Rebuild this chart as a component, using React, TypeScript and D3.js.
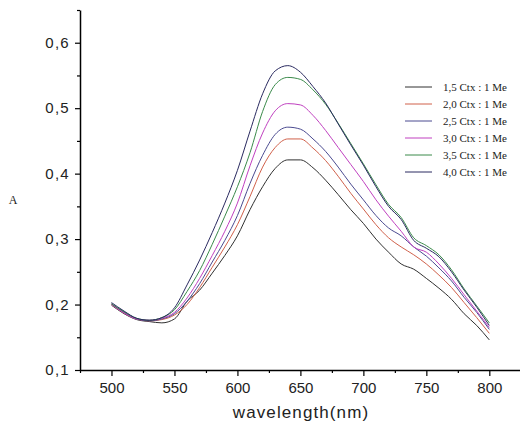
import React, { useEffect, useRef } from "react";
import * as d3 from "d3";

const wavelengths = [500,510,520,530,540,550,560,570,580,590,600,610,620,630,640,650,660,670,680,690,700,710,720,730,740,750,760,770,780,790,800];

const labels = ["1,5 Ctx : 1 Me","2,0 Ctx : 1 Me","2,5 Ctx : 1 Me","3,0 Ctx : 1 Me","3,5 Ctx : 1 Me","4,0 Ctx : 1 Me"];
const colors = ["#303030","#d0604a","#4a4a90","#c040c0","#3a8a4a","#2a2a60"];

const s15 = [.199,.186,.177,.174,.172,.178,.205,.222,.248,.275,.305,.345,.380,.408,.421,.421,.409,.390,.368,.345,.324,.300,.280,.262,.254,.240,.225,.208,.186,.168,.146];
const s20 = [.200,.187,.178,.175,.177,.184,.200,.226,.257,.288,.322,.365,.410,.440,.453,.453,.439,.420,.396,.370,.346,.322,.302,.288,.276,.262,.245,.226,.203,.180,.156];
const s25 = [.201,.188,.178,.175,.178,.186,.205,.232,.265,.298,.336,.385,.428,.460,.471,.468,.453,.434,.410,.384,.360,.336,.317,.305,.288,.274,.256,.236,.211,.188,.162];
const s30 = [.200,.187,.178,.176,.179,.188,.210,.240,.275,.312,.355,.412,.462,.496,.507,.505,.489,.466,.440,.414,.388,.360,.335,.312,.288,.280,.262,.240,.215,.190,.165];
const s35 = [.201,.189,.179,.176,.180,.192,.220,.252,.292,.335,.380,.432,.495,.536,.547,.544,.528,.506,.477,.446,.415,.383,.353,.333,.302,.290,.276,.253,.224,.198,.172];
const s40 = [.203,.190,.179,.176,.180,.195,.230,.268,.310,.355,.405,.465,.522,.557,.565,.555,.533,.508,.476,.444,.413,.380,.350,.330,.298,.286,.273,.250,.222,.196,.168];

const series = [s15, s20, s25, s30, s35, s40];

const xMajor = [500,550,600,650,700,750,800];
const xMinor = [475,525,575,625,675,725,775];
const yMajor = [0.1,0.2,0.3,0.4,0.5,0.6];
const yMinor = [0.15,0.25,0.35,0.45,0.55,0.65];

export default function App() {
  const ref = useRef<SVGSVGElement>(null);
  const W = 520, H = 425;
  const x = d3.scaleLinear().domain([475, 825]).range([80, 520.8]);
  const y = d3.scaleLinear().domain([0.1, 0.65]).range([370, 10]);

  useEffect(() => {
    const svg = d3.select(ref.current);
    svg.selectAll("*").remove();
    const fmt = (v: number) => d3.format(".1f")(v).replace(".", ",");

    // curves
    const line = d3.line<number>().x((_, i) => x(wavelengths[i])).y(d => y(d)).curve(d3.curveMonotoneX);
    series.forEach((s, k) => {
      svg.append("path").attr("d", line(s) as string).attr("fill", "none")
        .attr("stroke", colors[k]).attr("stroke-width", 1);
    });

    // y axis
    const ya = svg.append("g").attr("transform", "translate(80,0)")
      .call(d3.axisLeft(y).tickValues(yMajor).tickSize(5).tickSizeOuter(0).tickFormat(fmt as any));
    ya.select(".domain").attr("stroke", "#000").attr("stroke-width", 1.5);
    ya.selectAll(".tick line").attr("stroke", "#000").attr("stroke-width", 1.2);
    ya.selectAll("text").attr("font-family", "'Liberation Sans', Arial, sans-serif")
      .attr("font-size", 15).attr("letter-spacing", 1.3).attr("fill", "#222").attr("x", -10);
    const ym = svg.append("g").attr("transform", "translate(80,0)")
      .call(d3.axisLeft(y).tickValues(yMinor).tickSize(3).tickSizeOuter(0).tickFormat(() => ""));
    ym.select(".domain").remove();
    ym.selectAll(".tick line").attr("stroke", "#000").attr("stroke-width", 1.2);

    // x axis
    const xa = svg.append("g").attr("transform", "translate(0,370)")
      .call(d3.axisBottom(x).tickValues(xMajor).tickSize(6).tickSizeOuter(0).tickFormat(d3.format("d") as any));
    xa.select(".domain").attr("stroke", "#000").attr("stroke-width", 1.5);
    xa.selectAll(".tick line").attr("stroke", "#000").attr("stroke-width", 1.2);
    xa.selectAll("text").attr("font-family", "'Liberation Sans', Arial, sans-serif")
      .attr("font-size", 15).attr("fill", "#222").attr("y", 12);
    const xm = svg.append("g").attr("transform", "translate(0,370)")
      .call(d3.axisBottom(x).tickValues(xMinor).tickSize(3).tickSizeOuter(0).tickFormat(() => ""));
    xm.select(".domain").remove();
    xm.selectAll(".tick line").attr("stroke", "#000").attr("stroke-width", 1.2);

    // axis titles
    svg.append("text").attr("x", 301).attr("y", 418).attr("text-anchor", "middle")
      .attr("font-family", "'Liberation Sans', Arial, sans-serif").attr("font-size", 17)
      .attr("letter-spacing", 1.1).attr("fill", "#222").text("wavelength(nm)");
    svg.append("text").attr("x", 13).attr("y", 204).attr("text-anchor", "middle")
      .attr("font-family", "'Liberation Serif', 'Times New Roman', serif").attr("font-size", 12)
      .attr("fill", "#222").text("A");

    // legend
    labels.forEach((lab, k) => {
      const ly = 87 + k * 17;
      svg.append("line").attr("x1", 405).attr("x2", 432).attr("y1", ly).attr("y2", ly)
        .attr("stroke", colors[k]).attr("stroke-width", 1);
      svg.append("text").attr("x", 443).attr("y", ly + 4)
        .attr("font-family", "'Liberation Serif', 'Times New Roman', serif").attr("font-size", 11)
        .attr("fill", "#222").text(lab);
    });
  }, []);

  return (
    <svg ref={ref} width={W} height={H}
      style={{ position: "absolute", left: 0, top: 0, background: "#fff", display: "block" }} />
  );
}
